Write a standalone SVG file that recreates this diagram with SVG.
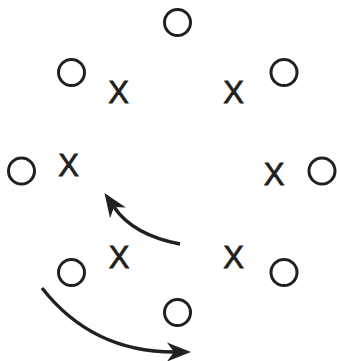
<svg xmlns="http://www.w3.org/2000/svg" width="337" height="361" viewBox="0 0 337 361">
<style>
.o{fill:none;stroke:#231f20;stroke-width:3}
.x{font-family:"Liberation Sans",Arial,sans-serif;font-size:31px;fill:#231f20;stroke:#231f20;stroke-width:0.8;text-anchor:middle}
.c{fill:none;stroke:#231f20;stroke-width:3.4}
</style>
<defs>
<marker id="ah" markerUnits="userSpaceOnUse" viewBox="-10 -15 30 30" markerWidth="30" markerHeight="30" refX="0" refY="0" orient="auto">
<path d="M17,0 L-7,-9.5 L0,0 L-7,9.5 Z" fill="#231f20"/>
</marker>
</defs>
<rect width="337" height="361" fill="#fff"/>
<g id="o1"><circle class="o" cx="177.5" cy="22.5" r="13"/></g>
<g id="o2"><circle class="o" cx="71.5" cy="72.5" r="13"/></g>
<g id="o3"><circle class="o" cx="284" cy="72.5" r="13"/></g>
<g id="o4"><circle class="o" cx="21.5" cy="171" r="13"/></g>
<g id="o5"><circle class="o" cx="322" cy="171" r="13"/></g>
<g id="o6"><circle class="o" cx="71.5" cy="272.5" r="13"/></g>
<g id="o7"><circle class="o" cx="284" cy="272.5" r="13"/></g>
<g id="o8"><circle class="o" cx="177.5" cy="312.5" r="13"/></g>
<g id="x1"><text class="x" x="118.5" y="103">X</text></g>
<g id="x2"><text class="x" x="233.5" y="103">X</text></g>
<g id="x3"><text class="x" x="68.5" y="176">X</text></g>
<g id="x4"><text class="x" x="274" y="184.5">X</text></g>
<g id="x5"><text class="x" x="119" y="267.5">X</text></g>
<g id="x6"><text class="x" x="233.5" y="267.5">X</text></g>
<g id="connectors">
<path class="c" d="M180,244 Q133,235 114,207" marker-end="url(#ah)"/>
<path class="c" d="M42,288 Q92,352 174,352" marker-end="url(#ah)"/>
</g>
</svg>
